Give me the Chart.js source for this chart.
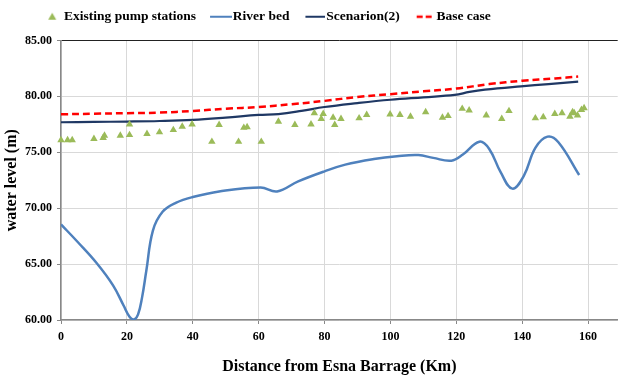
<!DOCTYPE html>
<html>
<head>
<meta charset="utf-8">
<script src="https://cdn.jsdelivr.net/npm/chart.js@4.4.1/dist/chart.umd.min.js"></script>
<style>
  html, body { margin: 0; padding: 0; background: #fff; }
  #wrap { width: 622px; height: 380px; }
</style>
</head>
<body>
<div id="wrap"><canvas id="myChart"></canvas></div>
<script>
// distance (km) / level (m) for each series
var riverKm    = [0, 5, 10.8, 15.8, 19, 20.8, 22.2, 23.4, 24.6, 25.9, 27.9, 30.9, 35, 40, 48, 60.6, 65.6, 72, 80, 86.3, 95, 102, 108.5, 113, 118.5, 122, 127, 130, 133.5, 137, 140.5, 144, 147.7, 151, 157.3];
var riverLevel = [68.55, 67.0, 65.1, 63.1, 61.3, 60.3, 60.05, 60.5, 62.0, 64.4, 68.0, 69.7, 70.5, 71.0, 71.5, 71.85, 71.5, 72.4, 73.3, 73.9, 74.4, 74.65, 74.75, 74.5, 74.25, 74.8, 75.95, 75.3, 73.2, 71.75, 72.9, 75.4, 76.4, 75.9, 72.97];

var scenKm    = [0, 10, 20, 30, 40, 50, 60, 66, 73, 80, 90, 100, 110, 119.5, 124, 128.7, 139.6, 148, 157];
var scenLevel = [77.69, 77.72, 77.75, 77.8, 77.9, 78.1, 78.34, 78.42, 78.7, 79.05, 79.4, 79.7, 79.92, 80.13, 80.4, 80.6, 80.9, 81.1, 81.33];

var baseKm    = [0, 10, 20, 30, 40, 50, 60, 70, 80, 90, 100, 110, 120, 130, 140, 150, 157];
var baseLevel = [78.4, 78.45, 78.5, 78.55, 78.7, 78.9, 79.05, 79.3, 79.6, 79.95, 80.2, 80.45, 80.7, 81.1, 81.4, 81.6, 81.77];

var pumpKm    = [0, 2, 3.4, 10, 12.8, 13.2, 18, 20.8, 20.8, 26.1, 29.9, 34.1, 36.8, 39.8, 45.8, 48, 53.9, 55.5, 56.5, 60.8, 66, 71, 75.9, 76.9, 79, 79.6, 82.6, 83.1, 85, 90.5, 92.8, 99.9, 102.9, 106.1, 110.7, 115.8, 117.5, 121.8, 123.9, 129.1, 133.8, 136, 144, 146.4, 149.9, 152.1, 154.5, 155.3, 155.8, 156.8, 158, 158.8];
var pumpLevel = [76.1, 76.1, 76.1, 76.2, 76.3, 76.5, 76.5, 77.5, 76.55, 76.65, 76.8, 77.0, 77.3, 77.5, 75.95, 77.45, 75.95, 77.2, 77.25, 75.95, 77.75, 77.45, 77.5, 78.5, 78.0, 78.45, 78.1, 77.45, 78.0, 78.05, 78.35, 78.4, 78.35, 78.2, 78.6, 78.1, 78.25, 78.9, 78.75, 78.3, 78.0, 78.7, 78.05, 78.15, 78.45, 78.5, 78.2, 78.6, 78.5, 78.3, 78.8, 78.95];

var xTicks = [0, 20, 40, 60, 80, 100, 120, 140, 160];
var yTicks = [60, 65, 70, 75, 80, 85];

function pairs(xs, ys) {
  return xs.map(function (x, i) { return {x: x, y: ys[i]}; });
}

// legend keys drawn on small canvases (28px wide, box centre at 14)
function key(draw) {
  var c = document.createElement('canvas');
  c.width = 28; c.height = 12;
  var g = c.getContext('2d');
  draw(g);
  return c;
}
var keyPump = key(function (g) {
  g.fillStyle = '#9BBB59';
  g.beginPath(); g.moveTo(17, 2); g.lineTo(21, 9); g.lineTo(13, 9); g.closePath(); g.fill();
});
var keyRiver = key(function (g) {
  g.strokeStyle = '#4F81BD'; g.lineWidth = 2;
  g.beginPath(); g.moveTo(6, 6); g.lineTo(28, 6); g.stroke();
});
var keyScen = key(function (g) {
  g.strokeStyle = '#1F3864'; g.lineWidth = 2;
  g.beginPath(); g.moveTo(8, 6); g.lineTo(28, 6); g.stroke();
});
var keyBase = key(function (g) {
  g.strokeStyle = '#FF0000'; g.lineWidth = 2.5;
  g.beginPath(); g.moveTo(9, 6); g.lineTo(15, 6); g.moveTo(18, 6); g.lineTo(24, 6); g.stroke();
});
var keys = [keyPump, keyRiver, keyScen, keyBase];

// move the legend row a bit left and up
var legendShift = {
  id: 'legendShift',
  afterLayout: function (chart) {
    var lg = chart.legend;
    lg.left -= 44; lg.right -= 44;
    lg.top -= 7; lg.bottom -= 7;
  }
};

var serif = 'Liberation Serif';

new Chart('myChart', {
  type: 'scatter',
  plugins: [legendShift],
  data: {
    datasets: [
      {
        label: 'Existing pump stations',
        data: pairs(pumpKm, pumpLevel),
        pointStyle: 'triangle',
        pointRadius: 4.3,
        backgroundColor: '#9BBB59',
        borderColor: '#9BBB59',
        borderWidth: 0,
        showLine: false,
        clip: false
      },
      {
        label: 'River bed',
        data: pairs(riverKm, riverLevel),
        showLine: true,
        borderColor: '#4F81BD',
        borderWidth: 2.5,
        pointRadius: 0,
        tension: 0.4
      },
      {
        label: 'Scenarion(2)',
        data: pairs(scenKm, scenLevel),
        showLine: true,
        borderColor: '#1F3864',
        borderWidth: 2.2,
        pointRadius: 0,
        tension: 0.4
      },
      {
        label: 'Base case',
        data: pairs(baseKm, baseLevel),
        showLine: true,
        borderColor: '#FF0000',
        borderWidth: 2.5,
        borderDash: [7, 4],
        pointRadius: 0,
        tension: 0.4
      }
    ]
  },
  options: {
    responsive: true,
    maintainAspectRatio: false,
    animation: false,
    layout: {padding: {top: 3, right: 2, bottom: 0, left: 0}},
    plugins: {
      tooltip: {enabled: false},
      legend: {
        display: true,
        position: 'top',
        labels: {
          usePointStyle: true,
          pointStyleWidth: 16,
          padding: 14,
          color: '#000',
          font: {family: serif, size: 13.5, weight: 'bold'},
          generateLabels: function (chart) {
            return chart.data.datasets.map(function (ds, i) {
              return {text: ds.label, pointStyle: keys[i], datasetIndex: i,
                      fillStyle: 'transparent', strokeStyle: 'transparent', lineWidth: 0, fontColor: '#000'};
            });
          }
        }
      }
    },
    scales: {
      x: {
        type: 'linear',
        min: 0,
        max: 169,
        afterFit: function (s) { s.height = 60; },
        afterBuildTicks: function (s) { s.ticks = xTicks.map(function (v) { return {value: v}; }); },
        ticks: {
          padding: 6,
          color: '#000',
          font: {family: serif, size: 12, weight: 'bold'}
        },
        grid: {color: '#d9d9d9', lineWidth: 1, tickLength: 4, tickColor: '#888'},
        border: {color: '#888', width: 1.5},
        title: {
          display: true,
          text: 'Distance from Esna Barrage (Km)',
          color: '#000',
          font: {family: serif, size: 16, weight: 'bold'},
          padding: {top: 0, bottom: 4}
        }
      },
      y: {
        min: 60,
        max: 85,
        afterFit: function (s) { s.width = 61; },
        afterBuildTicks: function (s) { s.ticks = yTicks.map(function (v) { return {value: v}; }); },
        ticks: {
          padding: 5,
          color: '#000',
          font: {family: serif, size: 12, weight: 'bold'},
          callback: function (v) { return Number(v).toFixed(2); }
        },
        grid: {
          color: function (c) { return c.tick && c.tick.value === 85 ? '#222' : '#d9d9d9'; },
          lineWidth: 1,
          tickLength: 4,
          tickColor: '#888'
        },
        border: {color: '#888', width: 1.5},
        title: {
          display: true,
          text: 'water level (m)',
          color: '#000',
          font: {family: serif, size: 16, weight: 'bold'},
          padding: {top: 2, bottom: 0}
        }
      }
    }
  }
});
</script>
</body>
</html>
